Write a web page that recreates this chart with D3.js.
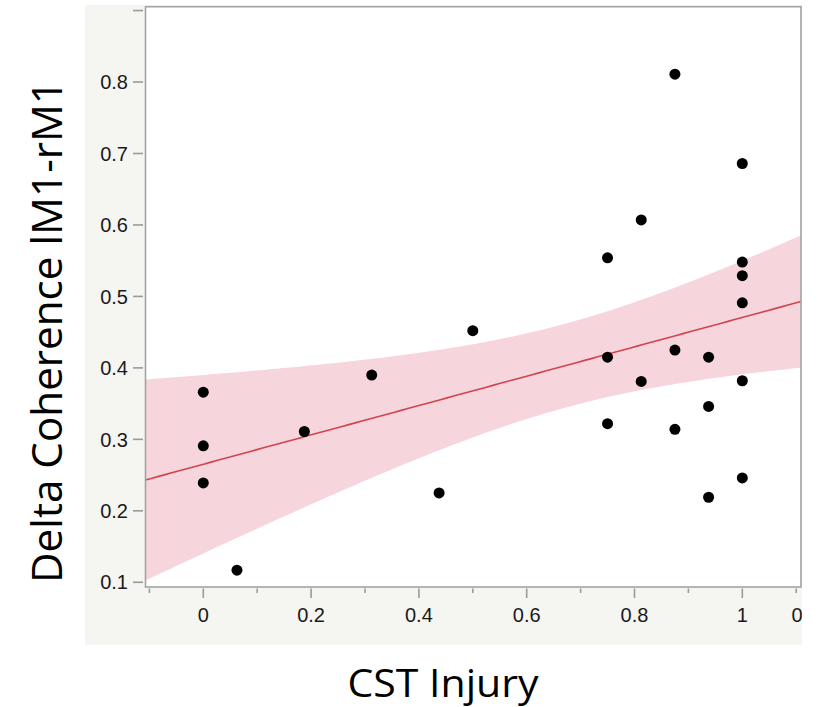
<!DOCTYPE html>
<html>
<head>
<meta charset="utf-8">
<script src="https://cdn.jsdelivr.net/npm/d3@7"></script>
<style>
  html, body { margin: 0; padding: 0; background: #ffffff; }
  svg { display: block; }
</style>
</head>
<body>
<svg id="chart" width="823" height="707"></svg>
<script>
// ---- data ----
const cstInjury = [0, 0, 0, 0.0625, 0.1875, 0.3125, 0.4375, 0.5,
  0.75, 0.75, 0.75, 0.8125, 0.8125, 0.875, 0.875, 0.875,
  0.9375, 0.9375, 0.9375, 1, 1, 1, 1, 1, 1];
const deltaCoherence = [0.366, 0.291, 0.239, 0.117, 0.311, 0.390, 0.225, 0.452,
  0.554, 0.415, 0.322, 0.607, 0.381, 0.811, 0.425, 0.314,
  0.415, 0.346, 0.219, 0.686, 0.548, 0.529, 0.491, 0.382, 0.246];
const xTickValues = [0, 0.2, 0.4, 0.6, 0.8, 1];
const xTickLabels = ["0", "0.2", "0.4", "0.6", "0.8", "1"];
const xMinorTicks = [-0.1, 0.1, 0.3, 0.5, 0.7, 0.9, 1.1];
const yTickValues = [0.1, 0.2, 0.3, 0.4, 0.5, 0.6, 0.7, 0.8, 0.9];
const yTickLabels = ["0.1", "0.2", "0.3", "0.4", "0.5", "0.6", "0.7", "0.8", ""];
const xTitle = "CST Injury";
const yTitle = "Delta Coherence lM1-rM1";
const tCrit = 2.069; // t(0.975, df = 23)

// ---- layout ----
const svg = d3.select("#chart");
const plot = { left: 145.5, right: 801, top: 6.7, bottom: 587 };
const panel = { left: 85, right: 802, top: 5, bottom: 645 };

const x = d3.scaleLinear().domain([-0.1072, 1.1089]).range([plot.left, plot.right]);
const y = d3.scaleLinear().domain([0.0934, 0.9054]).range([plot.bottom, plot.top]);

svg.append("defs").append("clipPath").attr("id", "plotClip")
  .append("rect").attr("x", plot.left).attr("y", plot.top)
  .attr("width", plot.right - plot.left).attr("height", plot.bottom - plot.top);
svg.select("defs").append("clipPath").attr("id", "panelClip")
  .append("rect").attr("x", panel.left).attr("y", panel.top)
  .attr("width", panel.right - panel.left).attr("height", panel.bottom - panel.top);

// panel background
svg.append("rect").attr("x", panel.left).attr("y", panel.top)
  .attr("width", panel.right - panel.left).attr("height", panel.bottom - panel.top)
  .attr("fill", "#f5f5f2");
svg.append("rect").attr("x", plot.left).attr("y", plot.top)
  .attr("width", plot.right - plot.left).attr("height", plot.bottom - plot.top)
  .attr("fill", "#ffffff");

// ---- linear fit + 95% confidence band for the mean ----
const n = cstInjury.length;
const mx = d3.mean(cstInjury), my = d3.mean(deltaCoherence);
let sxx = 0, sxy = 0;
for (let i = 0; i < n; i++) {
  sxx += (cstInjury[i] - mx) ** 2;
  sxy += (cstInjury[i] - mx) * (deltaCoherence[i] - my);
}
const slope = sxy / sxx, intercept = my - slope * mx;
let sse = 0;
for (let i = 0; i < n; i++) sse += (deltaCoherence[i] - (intercept + slope * cstInjury[i])) ** 2;
const s = Math.sqrt(sse / (n - 2));
const [x0, x1] = x.domain();
const band = d3.range(0, 101).map(k => {
  const xv = x0 + (x1 - x0) * k / 100;
  const fit = intercept + slope * xv;
  const hw = tCrit * s * Math.sqrt(1 / n + (xv - mx) ** 2 / sxx);
  return { xv, lo: fit - hw, hi: fit + hw, fit };
});

const g = svg.append("g").attr("clip-path", "url(#plotClip)");
g.append("path").datum(band)
  .attr("d", d3.area().x(d => x(d.xv)).y0(d => y(d.lo)).y1(d => y(d.hi)))
  .attr("fill", "#f6d6dc");
g.append("path").datum(band)
  .attr("d", d3.line().x(d => x(d.xv)).y(d => y(d.fit)))
  .attr("fill", "none").attr("stroke", "#d3434f").attr("stroke-width", 1.6);

// points
g.selectAll("circle").data(cstInjury.map((v, i) => [v, deltaCoherence[i]]))
  .enter().append("circle")
  .attr("cx", d => x(d[0])).attr("cy", d => y(d[1])).attr("r", 5.5)
  .attr("fill", "#000000");

// frame
svg.append("rect").attr("x", plot.left).attr("y", plot.top)
  .attr("width", plot.right - plot.left).attr("height", plot.bottom - plot.top)
  .attr("fill", "none").attr("stroke", "#a3a3a3").attr("stroke-width", 1.6);

// ---- axes ----
const axG = svg.append("g").attr("clip-path", "url(#panelClip)");
const tickColor = "#9a9a9a";
const labelFont = "'Liberation Sans', Arial, Helvetica, sans-serif";
const labelSize = 20;

// y ticks
axG.selectAll(".ytick").data(yTickValues).enter().append("line")
  .attr("x1", 133).attr("x2", 143)
  .attr("y1", d => y(d)).attr("y2", d => y(d))
  .attr("stroke", tickColor).attr("stroke-width", 1.6);
axG.selectAll(".ylab").data(yTickValues).enter().append("text")
  .attr("x", 128).attr("y", d => y(d)).attr("dy", "0.36em")
  .attr("text-anchor", "end").attr("font-family", labelFont).attr("font-size", labelSize)
  .attr("fill", "#1a1a1a").text((d, i) => yTickLabels[i]);

// x ticks
axG.selectAll(".xtick").data(xTickValues).enter().append("line")
  .attr("x1", d => x(d)).attr("x2", d => x(d))
  .attr("y1", 588.5).attr("y2", 598)
  .attr("stroke", tickColor).attr("stroke-width", 1.6);
axG.selectAll(".xminor").data(xMinorTicks).enter().append("line")
  .attr("x1", d => x(d)).attr("x2", d => x(d))
  .attr("y1", 588.5).attr("y2", 593)
  .attr("stroke", tickColor).attr("stroke-width", 1.6);
axG.selectAll(".xlab").data(xTickValues).enter().append("text")
  .attr("x", d => x(d)).attr("y", 622)
  .attr("text-anchor", "middle").attr("font-family", labelFont).attr("font-size", labelSize)
  .attr("fill", "#1a1a1a").text((d, i) => xTickLabels[i]);
// clipped label at the right edge of the panel
axG.append("text").attr("x", 791.5).attr("y", 622)
  .attr("font-family", labelFont).attr("font-size", labelSize).attr("fill", "#1a1a1a").text("0");

// ---- axis titles ----
const titleFont = "'Open Sans', 'Noto Sans', Lato, sans-serif";
svg.append("text")
  .attr("x", 443).attr("y", 697)
  .attr("text-anchor", "middle").attr("font-family", titleFont).attr("font-size", 38)
  .attr("textLength", 191).attr("lengthAdjust", "spacingAndGlyphs")
  .attr("fill", "#000").text(xTitle);
svg.append("text")
  .attr("transform", "translate(62,331.5) rotate(-90)")
  .attr("text-anchor", "middle").attr("font-family", titleFont).attr("font-size", 42)
  .attr("textLength", 503).attr("lengthAdjust", "spacingAndGlyphs")
  .attr("fill", "#000").text(yTitle);
</script>
</body>
</html>
